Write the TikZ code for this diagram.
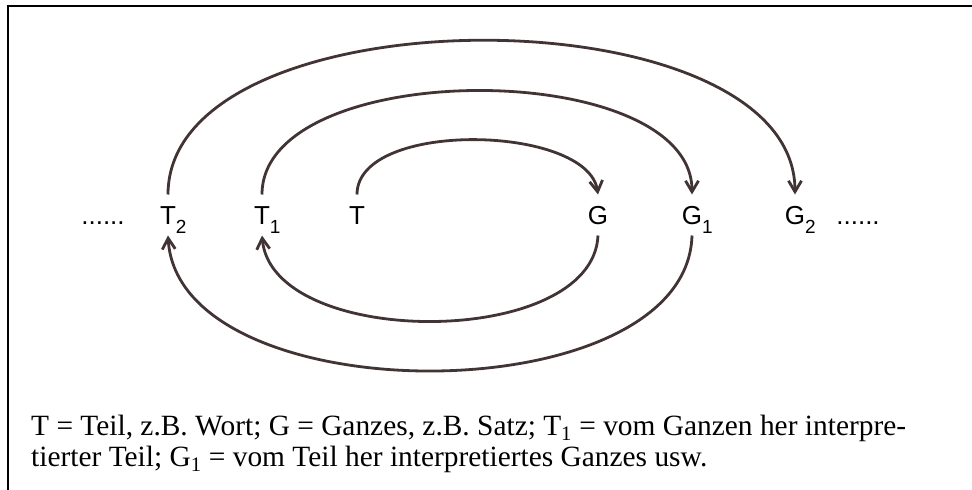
\documentclass[tikz,border=0pt]{standalone}
\usepackage{fontspec}
\setmainfont{Liberation Serif}
\newfontfamily\labelfont{Liberation Sans}
\usetikzlibrary{arrows.meta}
\definecolor{inkbrown}{RGB}{66,52,52}
\newcommand{\Idx}[1]{\rlap{\raisebox{-0.35em}{\fontsize{19}{19}\selectfont #1}}}
\tikzset{
    lbl/.style={font=\labelfont\fontsize{26}{26}\selectfont, inner sep=0pt, outer sep=11pt, text height=19pt, text depth=0pt},
    bow/.style={draw=inkbrown, line width=2.8pt, -{Straight Barb[length=11pt, width=13pt, line width=2.8pt]}},
    capt/.style={font=\fontsize{29.4}{30.5}\selectfont, anchor=base west, align=left, inner sep=0pt}
}
\begin{document}
\begin{tikzpicture}[x=1pt, y=-1pt]
    \useasboundingbox (0,0) rectangle (972,490);
    % frame (top and left edge only)
    \draw[line width=2.5pt] (972,6) -- (8,6) -- (8,490);

    % the row of parts and wholes
    \node[lbl] (dl) at (103,215) {......};
    \node[lbl] (t2) at (168,215) {T\Idx{2}};
    \node[lbl] (t1) at (262,215) {T\Idx{1}};
    \node[lbl] (t0) at (357,215) {T};
    \node[lbl] (g0) at (598,215) {G};
    \node[lbl] (g1) at (692,215) {G\Idx{1}};
    \node[lbl] (g2) at (795,215) {G\Idx{2}};
    \node[lbl] (dr) at (858,215) {......};

    % arcs above: part -> whole
    \draw[bow] (t0.north) .. controls +(0,-75) and +(-10,-70) .. (g0.north);
    \draw[bow] (t1.north) .. controls +(0,-138) and +(0,-138) .. (g1.north);
    \draw[bow] (t2.north) .. controls +(0,-205) and +(0,-205) .. (g2.north);

    % arcs below: whole -> part
    \draw[bow] (g0.south) .. controls +(-5,114) and +(10,114) .. (t1.south);
    \draw[bow] (g1.south) .. controls +(-5,180) and +(10,180) .. (t2.south);

    % caption (base anchor sits on the last line)
    \node[capt] (cap) at (31,466) {T = Teil, z.B. Wort; G = Ganzes, z.B. Satz; T\textsubscript{1} = vom Ganzen her interpre-\\
        tierter Teil; G\textsubscript{1} = vom Teil her interpretiertes Ganzes usw.};
\end{tikzpicture}
\end{document}
